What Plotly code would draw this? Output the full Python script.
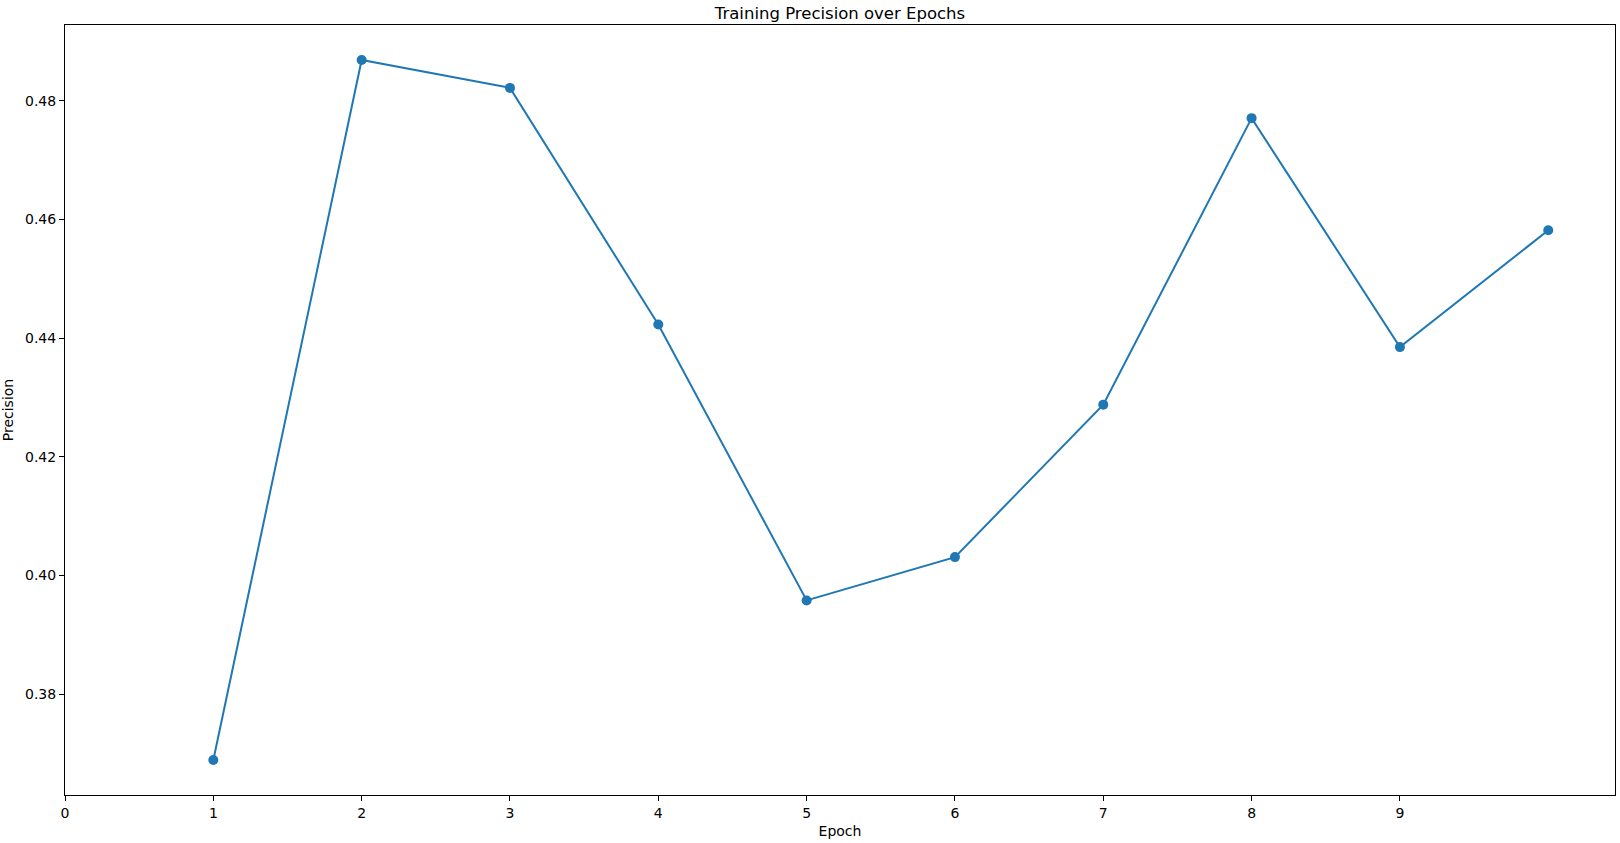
import plotly.graph_objects as go

epochs = [1, 2, 3, 4, 5, 6, 7, 8, 9, 10]
precision = [0.3689, 0.4869, 0.4822, 0.4423, 0.3958, 0.4031, 0.4288, 0.4771, 0.4385, 0.4582]
x_ticks = [0, 1, 2, 3, 4, 5, 6, 7, 8, 9]
y_ticks = [0.38, 0.40, 0.42, 0.44, 0.46, 0.48]

font = "DejaVu Sans"
fig = go.Figure()
fig.add_trace(go.Scatter(
    x=epochs, y=precision, mode="lines+markers",
    line=dict(color="#1f77b4", width=2),
    marker=dict(color="#1f77b4", size=10),
    showlegend=False,
))

fig.update_layout(
    width=1620, height=843,
    margin=dict(l=65, r=5, t=25, b=48),
    paper_bgcolor="white", plot_bgcolor="white",
    font=dict(family=font, size=14, color="black"),
    title=dict(text="Training Precision over Epochs", x=0.5, xref="paper",
               y=1, yref="paper", xanchor="center", yanchor="bottom",
               pad=dict(b=6), font=dict(family=font, size=16.5, color="black")),
)
fig.update_xaxes(
    range=[0, 10.45], tickvals=x_ticks, ticktext=[str(v) for v in x_ticks],
    showgrid=False, zeroline=False, showline=True, linecolor="black", linewidth=1,
    mirror=True, ticks="outside", ticklen=5, tickcolor="black",
    title=dict(text="Epoch", standoff=6, font=dict(family=font, size=14)),
)
fig.update_yaxes(
    range=[0.3630, 0.4928], tickvals=y_ticks, ticktext=[f"{v:.2f}" for v in y_ticks],
    showgrid=False, zeroline=False, showline=True, linecolor="black", linewidth=1,
    mirror=True, ticks="outside", ticklen=5, tickcolor="black",
    title=dict(text="Precision", standoff=8, font=dict(family=font, size=14)),
)

fig.write_html("out.html", config={"displayModeBar": False},
               post_script="document.body.style.margin='0';document.body.style.overflow='hidden';")
